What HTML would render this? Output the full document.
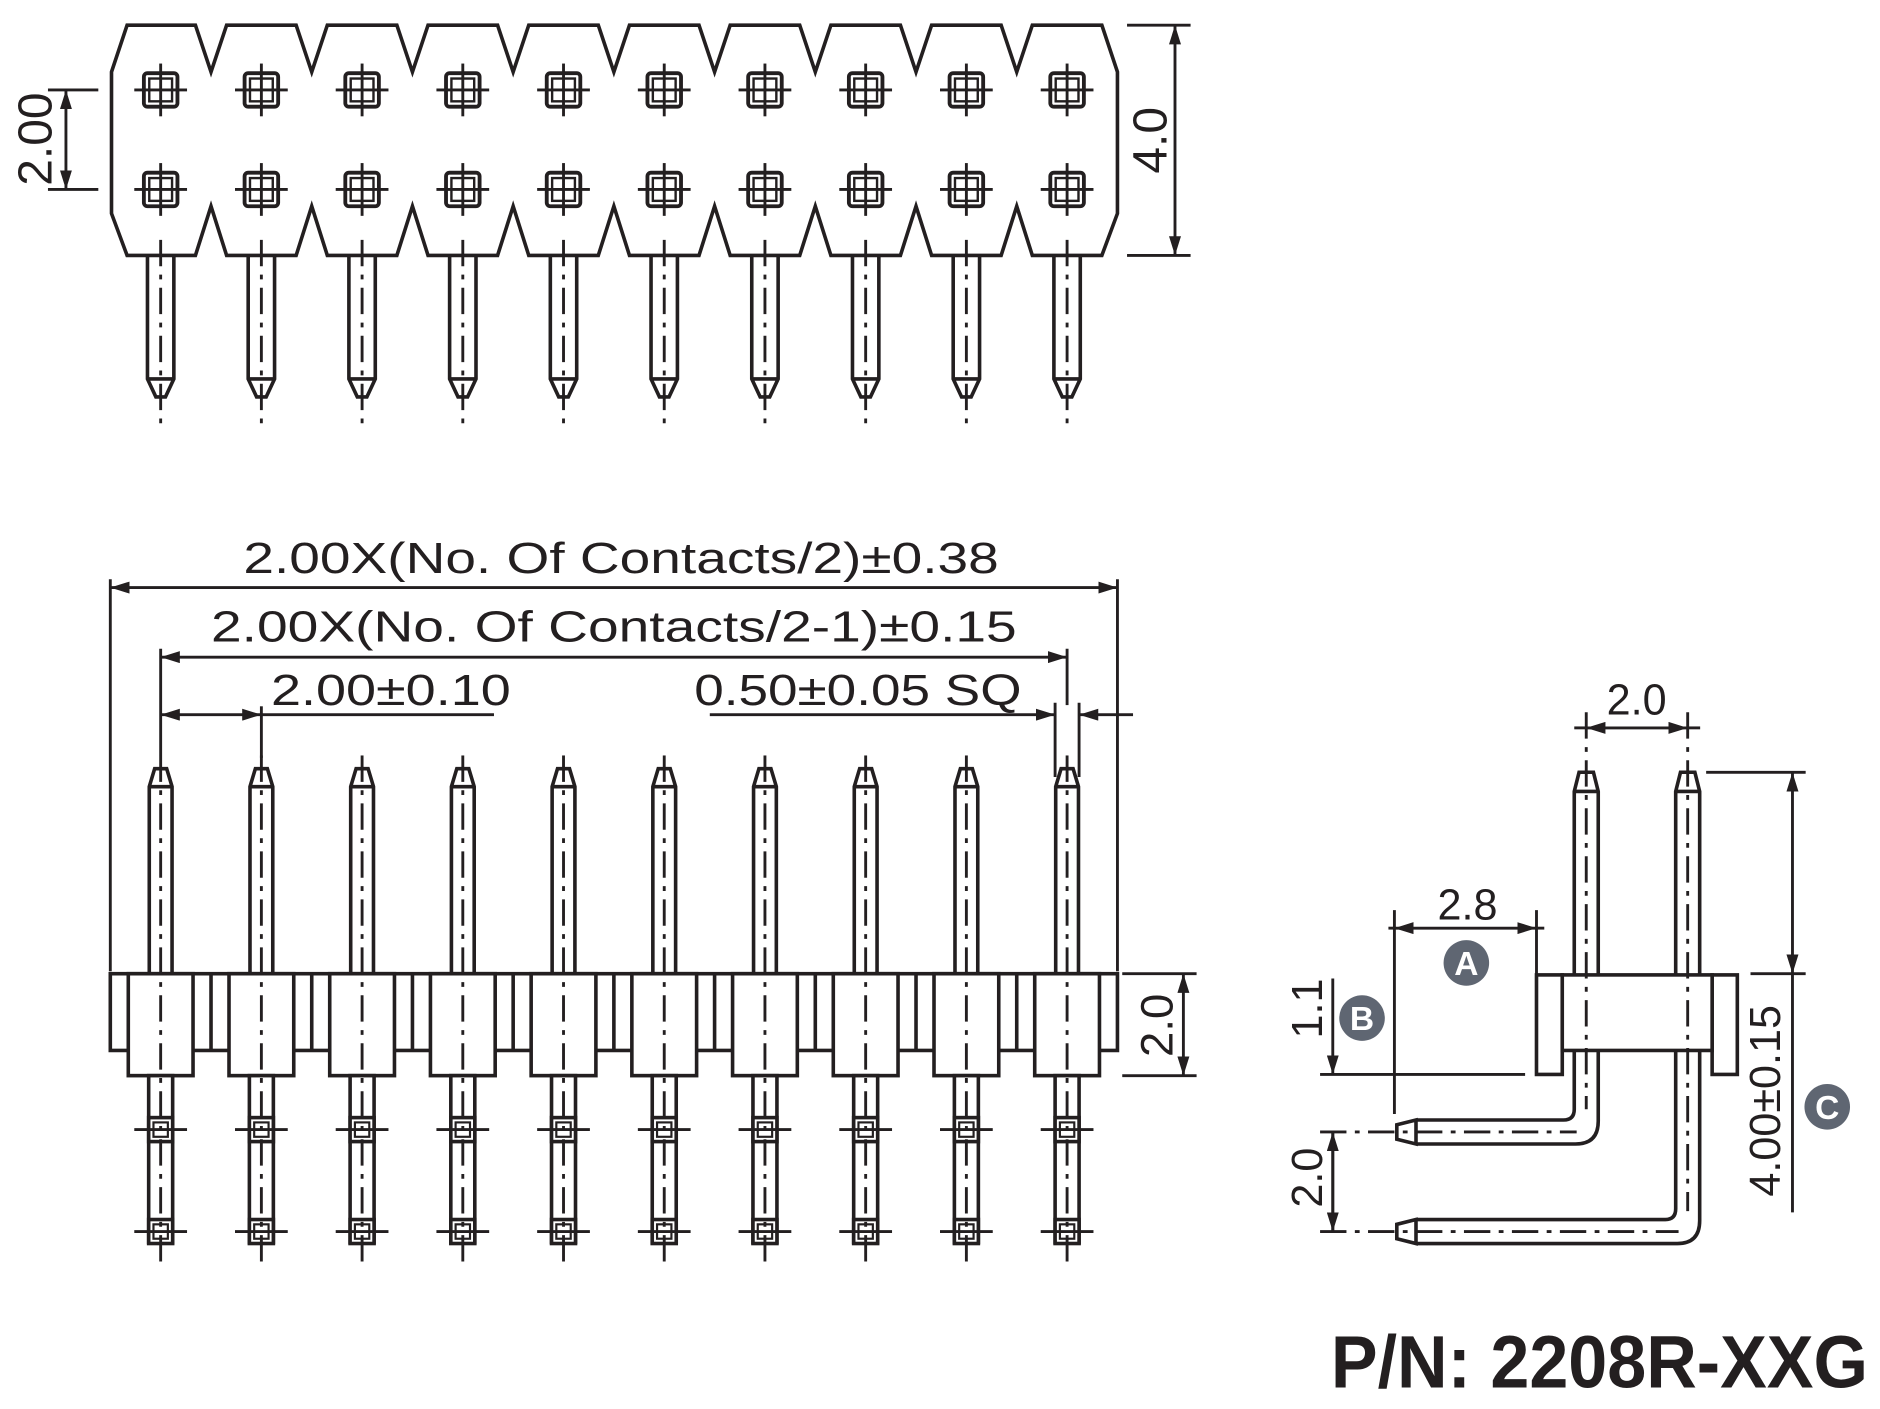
<!DOCTYPE html>
<html><head><meta charset="utf-8"><style>
html,body{margin:0;padding:0;background:#fff;}
svg{display:block;}
text{font-family:"Liberation Sans",Arial,sans-serif;fill:#231f20;}
</style></head><body>
<svg width="1880" height="1409" viewBox="0 0 1568 1175" preserveAspectRatio="none" xmlns="http://www.w3.org/2000/svg">
<defs>
<marker id="a" viewBox="0 0 16 10" refX="16" refY="5" markerWidth="16" markerHeight="10" markerUnits="userSpaceOnUse" orient="auto-start-reverse">
<path d="M0,0 L16,5 L0,10 Z" fill="#231f20"/></marker>
<g id="pad">
<rect x="-14" y="-14" width="28" height="28" rx="3" fill="none" stroke="#231f20" stroke-width="3.2"/>
<rect x="-9.5" y="-9.5" width="19" height="19" fill="none" stroke="#231f20" stroke-width="2"/>
<line x1="-22" y1="0" x2="22" y2="0" stroke="#231f20" stroke-width="2.4"/>
<line x1="0" y1="-22" x2="0" y2="22" stroke="#231f20" stroke-width="2.4"/>
</g>
<g id="tp" fill="none" stroke="#231f20" stroke-width="3">
<use href="#pad" y="75"/><use href="#pad" y="158"/>
<path d="M-11,213 L-11,316 L-4,331 L4,331 L11,316 L11,213 M-11,316 L11,316"/>
<line x1="0" y1="200" x2="0" y2="354" stroke-width="2.4" stroke-dasharray="22 7 4 7"/>
</g>
<g id="sq">
<rect x="-10" y="-10" width="20" height="20" fill="#fff" stroke="#231f20" stroke-width="3"/>
<rect x="-6" y="-6" width="12" height="12" fill="none" stroke="#231f20" stroke-width="1.8"/>
<line x1="-22" y1="0" x2="22" y2="0" stroke="#231f20" stroke-width="2.4"/>
</g>
<g id="fp" fill="none" stroke="#231f20" stroke-width="3">
<path d="M-9.5,812 L-9.5,656 L-5,641 L5,641 L9.5,656 L9.5,812 M-9.5,656 L9.5,656"/>
<rect x="-27" y="812" width="54" height="85" fill="#fff"/>
<rect x="-10" y="897" width="20" height="139" fill="#fff"/>
<use href="#sq" y="942"/><use href="#sq" y="1027"/>
<line x1="0" y1="630" x2="0" y2="1053" stroke-width="2.4" stroke-dasharray="22 7 4 7"/>
</g>
</defs>
<rect width="1568" height="1175" fill="#fff"/>

<!-- TOP VIEW -->
<path fill="none" stroke="#231f20" stroke-width="3" d="M106,21 L163,21 176,60 189,21 L247,21 260,60 273,21 L331,21 344,60 357,21 L415,21 428,60 441,21 L499,21 512,60 525,21 L583,21 596,60 609,21 L667,21 680,60 693,21 L751,21 764,60 777,21 L835,21 848,60 861,21 L919,21 932,60 932,178 919,213 L861,213 848,172 835,213 L777,213 764,172 751,213 L693,213 680,172 667,213 L609,213 596,172 583,213 L525,213 512,172 499,213 L441,213 428,172 415,213 L357,213 344,172 331,213 L273,213 260,172 247,213 L189,213 176,172 163,213 L106,213 93,178 93,60 Z"/>
<use href="#tp" x="134"/><use href="#tp" x="218"/><use href="#tp" x="302"/><use href="#tp" x="386"/><use href="#tp" x="470"/>
<use href="#tp" x="554"/><use href="#tp" x="638"/><use href="#tp" x="722"/><use href="#tp" x="806"/><use href="#tp" x="890"/>

<g stroke="#231f20" stroke-width="2.4" fill="none">
<line x1="40" y1="75" x2="82" y2="75"/><line x1="40" y1="158" x2="82" y2="158"/>
<line x1="55" y1="75" x2="55" y2="158" marker-start="url(#a)" marker-end="url(#a)"/>
<line x1="940" y1="21" x2="993" y2="21"/><line x1="940" y1="213" x2="993" y2="213"/>
<line x1="980" y1="21" x2="980" y2="213" marker-start="url(#a)" marker-end="url(#a)"/>
</g>
<text x="30" y="116" font-size="40" text-anchor="middle" dominant-baseline="central" transform="rotate(-90 30 116)">2.00</text>
<text x="960" y="117" font-size="40" text-anchor="middle" dominant-baseline="central" transform="rotate(-90 960 117)">4.0</text>

<!-- FRONT VIEW -->
<rect x="92" y="812" width="840" height="64" fill="none" stroke="#231f20" stroke-width="3"/>
<g stroke="#231f20" stroke-width="3">
<line x1="176" y1="812" x2="176" y2="876"/><line x1="260" y1="812" x2="260" y2="876"/><line x1="344" y1="812" x2="344" y2="876"/>
<line x1="428" y1="812" x2="428" y2="876"/><line x1="512" y1="812" x2="512" y2="876"/><line x1="596" y1="812" x2="596" y2="876"/>
<line x1="680" y1="812" x2="680" y2="876"/><line x1="764" y1="812" x2="764" y2="876"/><line x1="848" y1="812" x2="848" y2="876"/>
</g>
<use href="#fp" x="134"/><use href="#fp" x="218"/><use href="#fp" x="302"/><use href="#fp" x="386"/><use href="#fp" x="470"/>
<use href="#fp" x="554"/><use href="#fp" x="638"/><use href="#fp" x="722"/><use href="#fp" x="806"/><use href="#fp" x="890"/>

<g stroke="#231f20" stroke-width="2.4" fill="none">
<line x1="92" y1="483" x2="92" y2="810"/><line x1="932" y1="483" x2="932" y2="810"/>
<line x1="92" y1="490" x2="932" y2="490" marker-start="url(#a)" marker-end="url(#a)"/>
<line x1="134" y1="541" x2="134" y2="630"/><line x1="890" y1="541" x2="890" y2="588"/>
<line x1="134" y1="548" x2="890" y2="548" marker-start="url(#a)" marker-end="url(#a)"/>
<line x1="218" y1="589" x2="218" y2="632"/>
<line x1="134" y1="596" x2="218" y2="596" marker-start="url(#a)" marker-end="url(#a)"/>
<line x1="218" y1="596" x2="412" y2="596"/>
<line x1="880" y1="586" x2="880" y2="648"/><line x1="900" y1="586" x2="900" y2="648"/>
<line x1="592" y1="596" x2="880" y2="596" marker-end="url(#a)"/>
<line x1="945" y1="596" x2="900" y2="596" marker-end="url(#a)"/>
<line x1="936" y1="812" x2="998" y2="812"/><line x1="936" y1="897" x2="998" y2="897"/>
<line x1="987" y1="812" x2="987" y2="897" marker-start="url(#a)" marker-end="url(#a)"/>
</g>
<text x="518" y="478" font-size="36" text-anchor="middle" textLength="630" lengthAdjust="spacingAndGlyphs">2.00X(No. Of  Contacts/2)±0.38</text>
<text x="512" y="535" font-size="36" text-anchor="middle" textLength="672" lengthAdjust="spacingAndGlyphs">2.00X(No. Of  Contacts/2-1)±0.15</text>
<text x="226" y="588" font-size="36" textLength="200" lengthAdjust="spacingAndGlyphs">2.00±0.10</text>
<text x="579" y="588" font-size="36" textLength="273" lengthAdjust="spacingAndGlyphs">0.50±0.05 SQ</text>
<text x="965" y="855" font-size="38" text-anchor="middle" dominant-baseline="central" transform="rotate(-90 965 855)">2.0</text>

<!-- SIDE VIEW -->
<g fill="none" stroke="#231f20" stroke-width="3">
<path d="M1313,813 L1313,660 L1317,644 L1329,644 L1333,660 L1333,813 M1313,660 L1333,660"/>
<path d="M1397.6,813 L1397.6,660 L1401.6,644 L1413.6,644 L1417.6,660 L1417.6,813 M1397.6,660 L1417.6,660"/>
<rect x="1281.5" y="813" width="21.5" height="83"/>
<rect x="1428" y="813" width="21" height="83"/>
<rect x="1303" y="813" width="125" height="63" fill="#fff"/>
<path d="M1333,876 L1333,935 Q1333,954 1314,954 L1181,954 M1313,876 L1313,925 Q1313,934 1304,934 L1181,934 M1181,934 L1165,938 L1165,950 L1181,954 Z"/>
<path d="M1417.6,876 L1417.6,1018 Q1417.6,1037 1399,1037 L1181,1037 M1397.6,876 L1397.6,1008 Q1397.6,1017 1389,1017 L1181,1017 M1181,1017 L1165,1021 L1165,1033 L1181,1037 Z"/>
</g>
<g stroke="#231f20" stroke-width="2.4" fill="none" stroke-dasharray="22 7 4 7">
<line x1="1323" y1="594" x2="1323" y2="925"/>
<line x1="1407.6" y1="594" x2="1407.6" y2="1010"/>
<line x1="1101" y1="944" x2="1315" y2="944"/>
<line x1="1101" y1="1027" x2="1400" y2="1027"/>
</g>
<g stroke="#231f20" stroke-width="2.4" fill="none">
<line x1="1323" y1="607" x2="1407.6" y2="607" marker-start="url(#a)" marker-end="url(#a)"/>
<line x1="1313" y1="607" x2="1323" y2="607"/><line x1="1407.6" y1="607" x2="1418" y2="607"/>
<line x1="1163" y1="759" x2="1163" y2="929"/><line x1="1281.5" y1="759" x2="1281.5" y2="813"/>
<line x1="1163" y1="774" x2="1281.5" y2="774" marker-start="url(#a)" marker-end="url(#a)"/>
<line x1="1158" y1="774" x2="1163" y2="774"/><line x1="1281.5" y1="774" x2="1288" y2="774"/>
<line x1="1101" y1="896" x2="1272" y2="896"/>
<line x1="1111.6" y1="816" x2="1111.6" y2="896" marker-end="url(#a)"/>
<line x1="1111.6" y1="1027" x2="1111.6" y2="944" marker-end="url(#a)"/>
<line x1="1111.6" y1="944" x2="1111.6" y2="1027" marker-end="url(#a)"/>
<line x1="1423" y1="644" x2="1506" y2="644"/><line x1="1460" y1="812" x2="1506" y2="812"/>
<line x1="1495" y1="644" x2="1495" y2="812" marker-start="url(#a)" marker-end="url(#a)"/>
<line x1="1495" y1="812" x2="1495" y2="1011"/>
</g>
<text x="1365" y="596" font-size="36" text-anchor="middle">2.0</text>
<text x="1224" y="767" font-size="36" text-anchor="middle">2.8</text>
<text x="1091" y="841" font-size="36" text-anchor="middle" dominant-baseline="central" transform="rotate(-90 1091 841)">1.1</text>
<text x="1091" y="982" font-size="36" text-anchor="middle" dominant-baseline="central" transform="rotate(-90 1091 982)">2.0</text>
<text x="1473" y="918" font-size="36" text-anchor="middle" dominant-baseline="central" transform="rotate(-90 1473 918)">4.00±0.15</text>
<circle cx="1223" cy="803" r="19" fill="#5f6672"/>
<circle cx="1136" cy="849" r="19" fill="#5f6672"/>
<circle cx="1524" cy="923" r="19" fill="#5f6672"/>
<text x="1223" y="813" font-size="28" font-weight="bold" text-anchor="middle" style="fill:#fff">A</text>
<text x="1136" y="859" font-size="28" font-weight="bold" text-anchor="middle" style="fill:#fff">B</text>
<text x="1524" y="933" font-size="28" font-weight="bold" text-anchor="middle" style="fill:#fff">C</text>

<text x="1110" y="1157" font-size="62" font-weight="bold" textLength="448" lengthAdjust="spacingAndGlyphs">P/N: 2208R-XXG</text>
</svg>
</body></html>
